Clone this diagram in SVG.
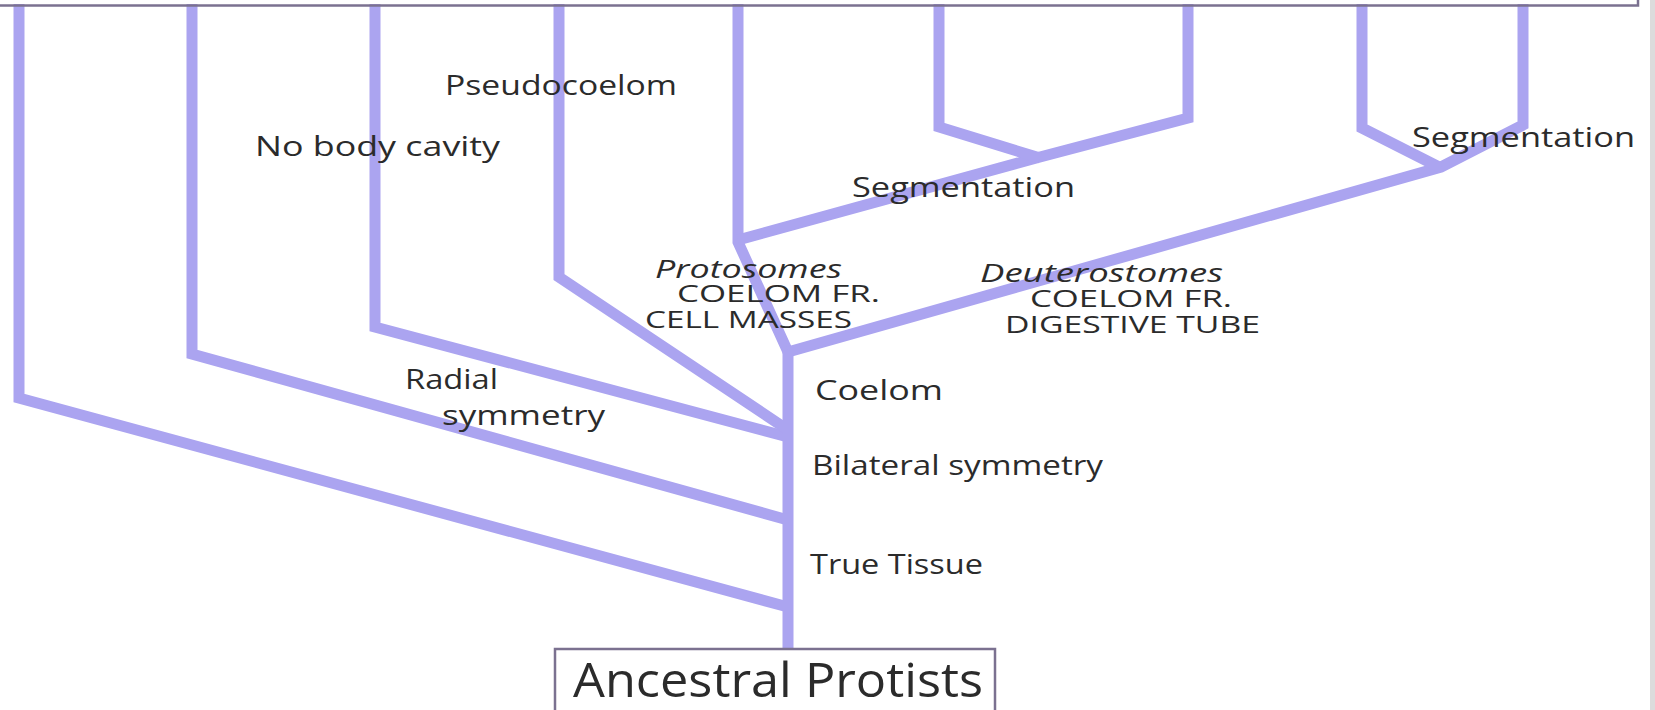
<svg xmlns="http://www.w3.org/2000/svg" width="1655" height="710" viewBox="0 0 1655 710">
<style>
.br{fill:none;stroke:#ABA4F0;stroke-width:11;stroke-linejoin:miter;stroke-linecap:butt}
.t{font-family:"Open Sans","Liberation Sans",sans-serif;fill:#2b2b2b;font-size:27px}
.i{font-style:italic;font-size:25px}
.c{font-size:23px}
.box{fill:#fff;stroke:#7b7190;stroke-width:2.5}
</style>
<rect x="0" y="0" width="1655" height="710" fill="#fff"/>
<rect x="1650" y="0" width="5" height="710" fill="#dcdcdc"/>
<g id="connectors">
<polyline class="br" points="19,4 19,398 788,607"/>
<polyline class="br" points="192,4 192,354 788,520"/>
<polyline class="br" points="375,4 375,327 788,437"/>
<polyline class="br" points="559,4 559,277 788,430"/>
<polyline class="br" points="738,4 738,242 788,352"/>
<polyline class="br" points="738,240 1040,157 1188,118 1188,4"/>
<polyline class="br" points="939,4 939,127 1040,158"/>
<polyline class="br" points="788,352 1441,167 1523,125 1523,4"/>
<polyline class="br" points="1362,4 1362,128 1441,168"/>
<line class="br" x1="788" y1="350" x2="788" y2="650"/>
</g>
<g id="top-box"><rect x="-10" y="-10" width="1648" height="15.5" fill="none" stroke="#7b7190" stroke-width="2.5"/></g>
<g id="labels">
<text class="t" x="445" y="95" textLength="232" lengthAdjust="spacingAndGlyphs">Pseudocoelom</text>
<text class="t" x="255" y="156" textLength="245" lengthAdjust="spacingAndGlyphs">No body cavity</text>
<text class="t" x="405" y="389" textLength="93" lengthAdjust="spacingAndGlyphs">Radial</text>
<text class="t" x="442" y="425" textLength="163" lengthAdjust="spacingAndGlyphs">symmetry</text>
<text class="t" x="815" y="400" textLength="128" lengthAdjust="spacingAndGlyphs">Coelom</text>
<text class="t" x="812" y="475" textLength="291" lengthAdjust="spacingAndGlyphs">Bilateral symmetry</text>
<text class="t" x="810" y="574" textLength="173" lengthAdjust="spacingAndGlyphs">True Tissue</text>
<text class="t" x="852" y="197" textLength="223" lengthAdjust="spacingAndGlyphs">Segmentation</text>
<text class="t" x="1412" y="147" textLength="223" lengthAdjust="spacingAndGlyphs">Segmentation</text>
<text class="t i" x="655" y="278" textLength="187" lengthAdjust="spacingAndGlyphs">Protosomes</text>
<text class="t c" x="677" y="302" textLength="203" lengthAdjust="spacingAndGlyphs">COELOM FR.</text>
<text class="t c" x="645" y="328" textLength="207" lengthAdjust="spacingAndGlyphs">CELL MASSES</text>
<text class="t i" x="980" y="282" textLength="243" lengthAdjust="spacingAndGlyphs">Deuterostomes</text>
<text class="t c" x="1030" y="307" textLength="202" lengthAdjust="spacingAndGlyphs">COELOM FR.</text>
<text class="t c" x="1005" y="333" textLength="255" lengthAdjust="spacingAndGlyphs">DIGESTIVE TUBE</text>
</g>
<g id="ancestral-protists">
<rect class="box" x="555" y="649" width="440" height="80"/>
<text class="t" x="573" y="697" font-size="48" style="font-size:48px" textLength="410" lengthAdjust="spacingAndGlyphs">Ancestral Protists</text>
</g>
</svg>
